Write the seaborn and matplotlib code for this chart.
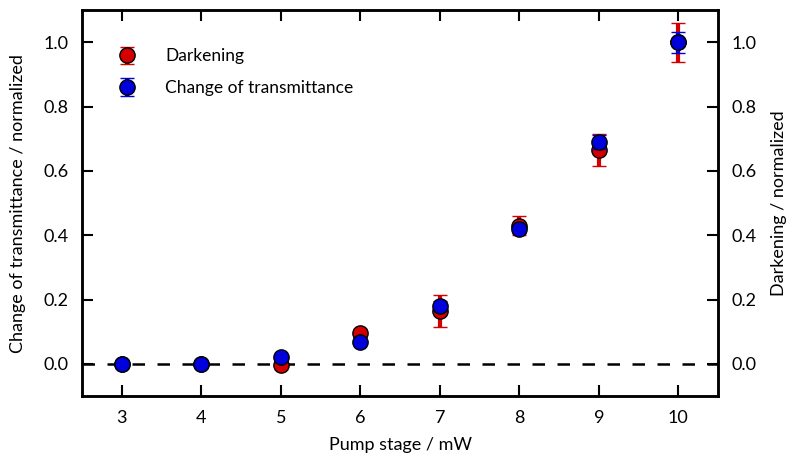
import matplotlib
matplotlib.use("Agg")
import matplotlib.pyplot as plt
import seaborn as sns

# Pumpstufen und normierte Messwerte
pump = [3, 4, 5, 6, 7, 8, 9, 10]
darkening = [0.0, 0.0, -0.003, 0.095, 0.165, 0.43, 0.665, 1.0]
darkening_err = [0.005, 0.005, 0.01, 0.012, 0.05, 0.03, 0.05, 0.06]
transmittance = [0.0, 0.0, 0.022, 0.068, 0.18, 0.42, 0.69, 1.0]
transmittance_err = [0.004, 0.004, 0.006, 0.008, 0.015, 0.012, 0.022, 0.032]

sns.set_style("ticks")
plt.rcParams['font.family'] = ['Lato', 'DejaVu Sans']
plt.rcParams['text.color'] = 'black'
plt.rcParams['axes.labelcolor'] = 'black'
plt.rcParams['xtick.color'] = 'black'
plt.rcParams['ytick.color'] = 'black'
plt.rcParams['axes.edgecolor'] = 'black'
plt.rcParams['xtick.direction'] = 'in'
plt.rcParams['ytick.direction'] = 'in'

fig, ax = plt.subplots(figsize=(7.9, 4.61), dpi=100)

ax.axhline(0, color='black', ls=(0, (5, 5)), lw=1.8, zorder=1)

ax.errorbar(pump, darkening, yerr=darkening_err, fmt='o', color='#d40000',
            mfc='#d40000', mec='black', mew=1, ms=11, elinewidth=3,
            capsize=5, capthick=1.5, label='Darkening', zorder=3)
ax.errorbar(pump, transmittance, yerr=transmittance_err, fmt='o', color='#0000dd',
            mfc='#0000dd', mec='black', mew=1, ms=11, elinewidth=3,
            capsize=5, capthick=1.5, label='Change of transmittance', zorder=4)

ax.set_xlim(2.5, 10.5)
ax.set_ylim(-0.1, 1.1)
ax.set_xticks(pump)
ax.set_yticks([0.0, 0.2, 0.4, 0.6, 0.8, 1.0])
ax.tick_params(axis='both', labelsize=13, length=8, width=1.5, top=True, pad=10)
ax.set_xlabel('Pump stage / mW', fontsize=13, labelpad=8)
ax.set_ylabel('Change of transmittance / normalized', fontsize=13, labelpad=12)
for s in ax.spines.values():
    s.set_linewidth(1.8)

ax2 = ax.twinx()
ax2.set_ylim(-0.1, 1.1)
ax2.set_yticks([0.0, 0.2, 0.4, 0.6, 0.8, 1.0])
ax2.tick_params(axis='y', labelsize=13, length=8, width=1.5, direction='in', pad=10)
ax2.set_ylabel('Darkening / normalized', fontsize=13, labelpad=10)
for s in ax2.spines.values():
    s.set_linewidth(1.8)

ax.legend(loc='upper left', bbox_to_anchor=(-0.017, 1.0), frameon=False,
          fontsize=12.5, handletextpad=1.2, borderaxespad=1.6,
          labelspacing=0.9, borderpad=0.6)

fig.subplots_adjust(left=0.104, right=0.909, top=0.978, bottom=0.141)
fig.savefig('out.png', dpi=100)
